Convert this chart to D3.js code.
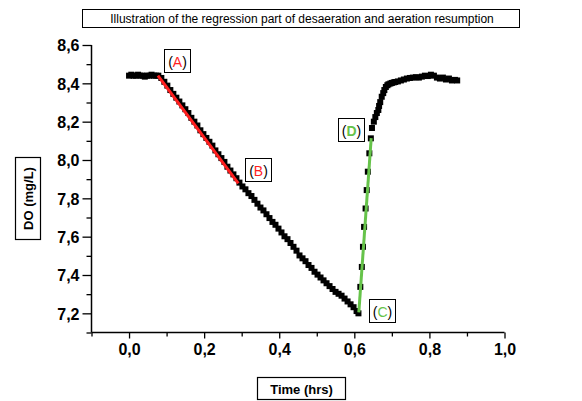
<!DOCTYPE html>
<html><head><meta charset="utf-8">
<script src="https://cdn.jsdelivr.net/npm/d3@7"></script>
<style>
html,body{margin:0;padding:0;background:#fff;}
svg{display:block;font-family:"Liberation Sans",Arial,sans-serif;}
</style></head>
<body>
<svg id="chart" width="582" height="401"></svg>
<script>
// ---- data ----
const titleText = "Illustration of the regression part of desaeration and aeration resumption";
const xLabel = "Time (hrs)";
const yLabel = "DO (mg/L)";
const xTicks = [0.0, 0.2, 0.4, 0.6, 0.8, 1.0];
const xTickLabels = ["0,0", "0,2", "0,4", "0,6", "0,8", "1,0"];
const xMinor = [-0.1, 0.1, 0.3, 0.5, 0.7, 0.9];
const yTicks = [7.2, 7.4, 7.6, 7.8, 8.0, 8.2, 8.4, 8.6];
const yTickLabels = ["7,2", "7,4", "7,6", "7,8", "8,0", "8,2", "8,4", "8,6"];
const yMinor = [7.1, 7.3, 7.5, 7.7, 7.9, 8.1, 8.3, 8.5];

const timeHrs = [
  0.000,0.006,0.012,0.018,0.024,0.030,0.036,0.042,0.048,0.054,0.060,0.066,0.072,
  0.078,0.086,0.094,0.102,0.110,0.118,0.126,0.134,0.142,0.150,0.158,0.166,0.174,
  0.182,0.190,0.198,0.206,0.214,0.222,0.230,0.238,0.246,0.254,0.262,0.270,0.278,
  0.286,0.294,0.302,0.310,0.318,0.326,0.334,0.342,0.350,0.358,0.366,0.374,0.382,
  0.390,0.398,0.406,0.414,0.422,0.430,0.438,0.446,0.454,0.462,0.470,0.478,0.486,
  0.494,0.502,0.510,0.518,0.526,0.534,0.542,0.550,0.558,0.566,0.574,0.582,0.590,
  0.598,0.606,0.611,
  0.616,0.620,0.623,0.626,0.630,0.633,0.636,0.640,0.644,0.647,0.652,0.656,0.660,
  0.664,0.666,0.669,0.673,0.677,0.680,0.684,0.688,0.691,0.696,0.700,0.705,0.709,
  0.716,0.724,0.732,0.740,0.748,0.756,0.764,0.772,0.780,0.788,0.796,0.804,0.812,
  0.820,0.828,0.836,0.844,0.852,0.860,0.868,0.874
];
const doValues = [
  8.440,8.445,8.440,8.440,8.445,8.440,8.440,8.435,8.440,8.440,8.445,8.440,8.440,
  8.440,8.428,8.408,8.388,8.365,8.345,8.325,8.305,8.285,8.265,8.245,8.220,8.200,
  8.180,8.155,8.135,8.115,8.095,8.075,8.050,8.030,8.010,7.990,7.965,7.945,7.925,
  7.905,7.882,7.862,7.847,7.827,7.812,7.792,7.772,7.752,7.737,7.717,7.697,7.677,
  7.662,7.642,7.622,7.602,7.587,7.567,7.547,7.527,7.502,7.487,7.472,7.452,7.437,
  7.417,7.402,7.387,7.372,7.357,7.342,7.327,7.312,7.302,7.292,7.277,7.262,7.247,
  7.232,7.212,7.200,
  7.338,7.442,7.547,7.651,7.747,7.843,7.939,8.035,8.113,8.167,8.200,8.224,8.245,
  8.261,8.282,8.302,8.330,8.349,8.365,8.381,8.390,8.395,8.399,8.402,8.405,8.407,
  8.410,8.415,8.420,8.425,8.428,8.430,8.432,8.430,8.435,8.440,8.438,8.445,8.440,
  8.430,8.425,8.430,8.420,8.425,8.415,8.418,8.415
];

// regression segments
const regDeaerTime = [0.077, 0.291];
const regDeaerDO   = [8.440, 7.878];
const regAerTime   = [0.612, 0.645];
const regAerDO     = [7.205, 8.114];

// annotation anchors (data units)
const annLetters = ["A", "B", "C", "D"];
const annTime = [0.077, 0.291, 0.611, 0.645];
const annDO   = [8.440, 7.878, 7.200, 8.114];

// ---- drawing ----
const svg = d3.select("#chart");
const red = "#ff1f1f", green = "#66c34a";
const x = d3.scaleLinear().domain([-0.1, 1.0]).range([91.5, 504.5]);
const y = d3.scaleLinear().domain([7.1, 8.6]).range([332.5, 45]);

// title box
const tg = svg.append("g");
tg.append("rect").attr("x", 82.5).attr("y", 9.5).attr("width", 437).attr("height", 18)
  .attr("fill", "none").attr("stroke", "#000").attr("stroke-width", 1);
tg.append("text").attr("x", 302).attr("y", 22.5).attr("text-anchor", "middle")
  .attr("font-size", 12).text(titleText);

// axes
const axisX = d3.axisBottom(x).tickValues(xTicks).tickSize(6).tickPadding(5)
  .tickFormat((d, i) => xTickLabels[i]);
const gx = svg.append("g").attr("transform", `translate(0,${y(7.1)})`).call(axisX);
const gxMinor = svg.append("g").attr("transform", `translate(0,${y(7.1)})`)
  .call(d3.axisBottom(x).tickValues(xMinor).tickSize(4).tickFormat(""));
gxMinor.select(".domain").remove();

const axisY = d3.axisLeft(y).tickValues(yTicks).tickSize(9).tickPadding(3)
  .tickFormat((d, i) => yTickLabels[i]);
const gy = svg.append("g").attr("transform", `translate(${x(-0.1)},0)`).call(axisY);
const gyMinor = svg.append("g").attr("transform", `translate(${x(-0.1)},0)`)
  .call(d3.axisLeft(y).tickValues(yMinor).tickSize(5).tickFormat(""));
gyMinor.select(".domain").remove();

svg.selectAll(".domain").attr("stroke", "#000").attr("stroke-width", 1.5);
svg.selectAll(".tick line").attr("stroke", "#000").attr("stroke-width", 1.3);
gx.selectAll("text").attr("font-size", 16).attr("font-weight", "bold")
  .attr("font-family", "Liberation Sans, Arial, sans-serif").attr("fill", "#000");
gy.selectAll("text").attr("font-size", 16).attr("font-weight", "bold")
  .attr("font-family", "Liberation Sans, Arial, sans-serif").attr("fill", "#000")
  .attr("dy", "0.36em");
gx.select(".domain").attr("d", `M${x(-0.1)},0H${x(1.0)}`);
gy.select(".domain").attr("d", `M0,${y(7.1)}V${y(8.6)}`);

// axis titles with boxes
const xl = svg.append("g");
xl.append("rect").attr("x", 257.5).attr("y", 377.5).attr("width", 88).attr("height", 22)
  .attr("fill", "none").attr("stroke", "#000").attr("stroke-width", 1.2);
xl.append("text").attr("x", 301.5).attr("y", 393.5).attr("text-anchor", "middle")
  .attr("font-size", 13).attr("font-weight", "bold").text(xLabel);

const yl = svg.append("g");
yl.append("rect").attr("x", 15.5).attr("y", 157.5).attr("width", 25).attr("height", 82)
  .attr("fill", "none").attr("stroke", "#000").attr("stroke-width", 1.2);
yl.append("text").attr("transform", "translate(33,198.5) rotate(-90)").attr("text-anchor", "middle")
  .attr("font-size", 13).attr("font-weight", "bold").text(yLabel);

// data markers
const pts = timeHrs.map((t, i) => ({t, v: doValues[i]}));
const ms = 6;
svg.append("g").selectAll("rect").data(pts).join("rect")
  .attr("x", d => x(d.t) - ms / 2).attr("y", d => y(d.v) - ms / 2)
  .attr("width", ms).attr("height", ms).attr("fill", "#000");

// regression lines
const line = d3.line().x(d => x(d[0])).y(d => y(d[1]));
svg.append("path").attr("d", line(regDeaerTime.map((t, i) => [t, regDeaerDO[i]])))
  .attr("stroke", red).attr("stroke-width", 3).attr("fill", "none");
svg.append("path").attr("d", line(regAerTime.map((t, i) => [t, regAerDO[i]])))
  .attr("stroke", green).attr("stroke-width", 3).attr("fill", "none");

// annotations
const annOffsets = [[6, -26.5], [7, -25], [10.5, -14], [-33, -20]];
const annColors = [red, red, green, green];
const annBold = [false, false, false, true];
annLetters.forEach((L, i) => {
  const bx = Math.round(x(annTime[i]) + annOffsets[i][0]) + 0.5;
  const by = Math.round(y(annDO[i]) + annOffsets[i][1]) + 0.5;
  const g = svg.append("g");
  g.append("rect").attr("x", bx).attr("y", by).attr("width", 26).attr("height", 23)
    .attr("fill", "#fff").attr("stroke", "#000").attr("stroke-width", 1);
  const t = g.append("text").attr("x", bx + 13).attr("y", by + 17).attr("text-anchor", "middle")
    .attr("font-size", 14);
  t.append("tspan").attr("fill", "#000").text("(");
  t.append("tspan").attr("fill", annColors[i]).attr("font-weight", annBold[i] ? "bold" : "normal").text(L);
  t.append("tspan").attr("fill", "#000").text(")");
});
</script>
</body></html>
